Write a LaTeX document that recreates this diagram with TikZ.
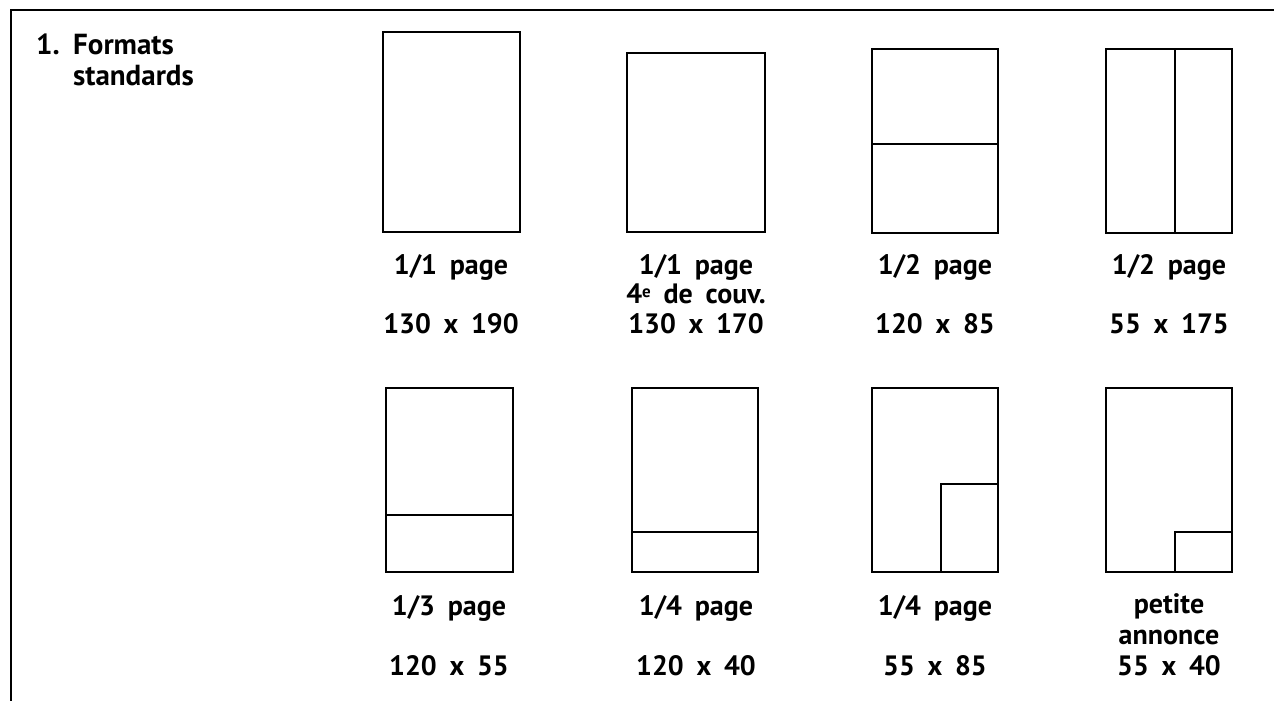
\documentclass[tikz,border=0pt]{standalone}
\usepackage{fontspec}
\setmainfont{PT Sans}[WordSpace=1.8]
\newcommand{\supe}{\raisebox{6pt}{\fontsize{17}{17}\selectfont e}}
\begin{document}
\begin{tikzpicture}[x=1pt,y=-1pt,
  frame/.style={line width=2pt,black},
  pg/.style={draw,line width=1.8pt,inner sep=0pt,outer sep=0pt},
  div/.style={line width=1.8pt},
  lbl/.style={font=\bfseries\fontsize{28}{30}\selectfont,anchor=base,inner sep=0pt},
  head/.style={font=\bfseries\fontsize{29}{30}\selectfont,anchor=base west,inner sep=0pt}]
\useasboundingbox (0,0) rectangle (1274,701);
\draw[frame] (11,701) -- (11,10) -- (1274,10);
% heading
\node[head] (h1) at (36,55) {1.};
\node[head] (h2) at (73,55) {Formats};
\node[head] (h3) at (73,85) {standards};
% row 1 boxes
\node[pg,minimum width=137pt,minimum height=200pt] (b1) at (451.5,132) {};
\node[pg,minimum width=138pt,minimum height=179pt] (b2) at (696,142.5) {};
\node[pg,minimum width=126pt,minimum height=184pt] (b3) at (935,141) {};
\node[pg,minimum width=126pt,minimum height=184pt] (b4) at (1169,141) {};
\draw[div] (b3.west |- 0,144) -- (b3.east |- 0,144);
\draw[div] (1175,0 |- b4.north) -- (1175,0 |- b4.south);
% row 2 boxes
\node[pg,minimum width=127pt,minimum height=184pt] (b5) at (449.5,480) {};
\node[pg,minimum width=126pt,minimum height=184pt] (b6) at (695,480) {};
\node[pg,minimum width=126pt,minimum height=184pt] (b7) at (935,480) {};
\node[pg,minimum width=126pt,minimum height=184pt] (b8) at (1169,480) {};
\draw[div] (b5.west |- 0,515) -- (b5.east |- 0,515);
\draw[div] (b6.west |- 0,532) -- (b6.east |- 0,532);
\coordinate (c7) at (941,484);
\draw[div] (c7 |- b7.south) -- (c7) -- (c7 -| b7.east);
\coordinate (c8) at (1175,532);
\draw[div] (c8 |- b8.south) -- (c8) -- (c8 -| b8.east);
% row 1 labels
\node[lbl] (t1a) at (451,274) {1/1 page};
\node[lbl] (t1b) at (451,333) {130 x 190};
\node[lbl] (t2a) at (696,274) {1/1 page};
\node[lbl] (t2b) at (696,303) {4\supe{} de couv.};
\node[lbl] (t2c) at (696,333) {130 x 170};
\node[lbl] (t3a) at (935,274) {1/2 page};
\node[lbl] (t3b) at (935,333) {120 x 85};
\node[lbl] (t4a) at (1169,274) {1/2 page};
\node[lbl] (t4b) at (1169,333) {55 x 175};
% row 2 labels
\node[lbl] (t5a) at (449,615) {1/3 page};
\node[lbl] (t5b) at (449,675) {120 x 55};
\node[lbl] (t6a) at (696,615) {1/4 page};
\node[lbl] (t6b) at (696,675) {120 x 40};
\node[lbl] (t7a) at (935,615) {1/4 page};
\node[lbl] (t7b) at (935,675) {55 x 85};
\node[lbl] (t8a) at (1169,613) {petite};
\node[lbl] (t8b) at (1169,644) {annonce};
\node[lbl] (t8c) at (1169,675) {55 x 40};
\end{tikzpicture}
\end{document}
